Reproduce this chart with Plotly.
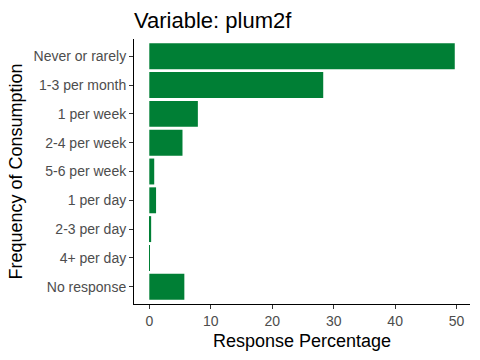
import plotly.graph_objects as go

categories = ["Never or rarely", "1-3 per month", "1 per week", "2-4 per week",
              "5-6 per week", "1 per day", "2-3 per day", "4+ per day", "No response"]
values = [49.7, 28.3, 7.9, 5.4, 0.8, 1.1, 0.3, 0.1, 5.7]
x_ticks = [0, 10, 20, 30, 40, 50]

green = "#007F35"

fig = go.Figure(go.Bar(
    y=categories, x=values, orientation="h",
    marker=dict(color=green, line=dict(width=0)),
    width=0.9,
))

fig.update_layout(
    width=480, height=360,
    margin=dict(l=134, r=10, t=39, b=56, autoexpand=False),
    paper_bgcolor="white", plot_bgcolor="white",
    font=dict(family="Liberation Sans, Arial, sans-serif"),
    showlegend=False,
    title=dict(text="Variable: plum2f", x=134/480, xanchor="left",
               y=1 - 20/360, yanchor="middle",
               font=dict(size=22, color="black")),
    bargap=0.1,
)

fig.update_xaxes(
    range=[-2.49, 52.18], tickvals=x_ticks, automargin=False,
    showgrid=False, zeroline=False,
    showline=True, linecolor="black", linewidth=1,
    ticks="outside", ticklen=4, tickcolor="#333333",
    tickfont=dict(size=14, color="#4D4D4D"),
    title=dict(text="Response Percentage", font=dict(size=18, color="black"), standoff=6),
)
fig.update_yaxes(
    categoryorder="array", categoryarray=categories[::-1],
    range=[-0.6, 8.6], automargin=False,
    showgrid=False, zeroline=False,
    showline=True, linecolor="black", linewidth=1,
    ticks="outside", ticklen=4, tickcolor="#333333",
    tickfont=dict(size=14, color="#4D4D4D"),
    title=dict(text="Frequency of Consumption", font=dict(size=18, color="black"), standoff=6),
)

fig.write_html("out.html", config={"displayModeBar": False},
               post_script="document.body.style.margin='0';document.body.style.overflow='hidden';")
